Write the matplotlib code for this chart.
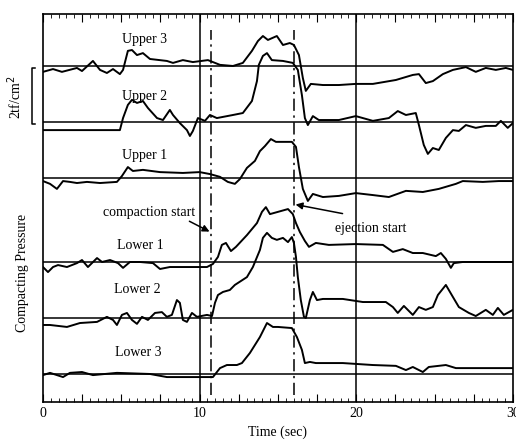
import numpy as np
import matplotlib.pyplot as plt
from matplotlib.ticker import MultipleLocator, FuncFormatter

plt.rcParams['font.family'] = ['Liberation Serif', 'DejaVu Serif']

# baselines of each channel (tf/cm^2, stacked)
baselines = {"Upper 3": 12.0, "Upper 2": 10.0, "Upper 1": 8.0,
             "Lower 1": 5.0, "Lower 2": 3.0, "Lower 3": 1.0}

# time (sec) and pressure relative to baseline (tf/cm^2)
upper3_t = [0, 0.64, 1.21, 2.17, 2.49, 3.19, 3.64, 4.08, 4.47, 4.91, 5.11, 5.42, 5.68, 6.0, 6.38,
            6.83, 7.91, 8.3, 8.93, 9.57, 10.53, 11.3, 12.13, 12.76, 13.34, 13.72, 14.04, 14.36,
            14.93, 15.32, 15.76, 16.02, 16.34, 16.59, 16.78, 17.1, 17.87, 18.89, 19.97, 21.06,
            22.53, 23.61, 24.0, 24.44, 24.89, 25.53, 26.17, 27.0, 27.63, 28.27, 28.91, 29.55, 30]
upper3_v = [-0.21, -0.11, -0.21, -0.07, -0.18, 0.18, -0.14, -0.25, -0.11, -0.29, -0.14, 0.54, 0.57,
            0.39, 0.46, 0.25, 0.18, 0.11, 0.21, 0.14, 0.21, 0.04, 0, 0.11, 0.54, 0.89, 1.07, 0.93,
            1.07, 0.75, 0.82, 0.75, 0.39, -0.43, -0.89, -0.64, -0.68, -0.68, -0.64, -0.64,
            -0.5, -0.32, -0.29, -0.61, -0.54, -0.29, -0.14, -0.04, -0.21, -0.07, -0.14, -0.07, -0.14]

upper2_t = [0, 4.91, 5.11, 5.42, 5.68, 6.0, 6.38, 6.7, 7.28, 7.66, 8.1, 8.3, 8.74, 9.19, 9.38, 9.57,
            9.89, 10.34, 10.66, 11.1, 12.13, 12.76, 13.34, 13.66, 13.78, 14.04, 14.3, 14.61, 15.32,
            15.95, 16.27, 16.53, 16.72, 16.91, 17.23, 17.61, 18.89, 19.97, 21.06, 22.08, 22.65,
            23.17, 23.8, 24.0, 24.31, 24.57, 24.89, 25.27, 25.72, 26.17, 26.55, 27.0, 27.63,
            28.27, 28.91, 29.23, 29.67, 30]
upper2_v = [-0.29, -0.29, 0.14, 0.61, 0.79, 0.68, 0.75, 0.5, 0.14, 0.07, 0.43, 0.25, -0.04, -0.29,
            -0.5, -0.32, 0.14, 0.04, 0.25, 0.14, 0.25, 0.32, 0.75, 1.46, 2.04, 2.36, 2.46, 2.21, 2.18,
            2.11, 1.86, 0.96, 0.14, -0.11, 0.21, 0.07, 0.07, 0.21, 0.04, 0.14, 0.39,
            0.25, 0.32, -0.11, -0.82, -1.14, -0.93, -1.0, -0.57, -0.29, -0.32, -0.11, -0.21,
            -0.14, -0.14, 0.04, -0.21, -0.04]

upper1_t = [0, 0.45, 0.89, 1.28, 1.72, 2.17, 2.81, 3.64, 4.72, 5.04, 5.42, 5.74, 6.38, 7.47, 8.93,
            10.0, 10.66, 11.3, 11.8, 12.25, 12.57, 13.02, 13.53, 13.85, 14.17, 14.55, 14.87, 15.89,
            16.15, 16.34, 16.59, 16.91, 17.23, 17.87, 18.89, 19.97, 21.06, 22.08, 23.17, 24.25,
            25.27, 26.36, 26.8, 28.08, 29.1, 30]
upper1_v = [-0.11, -0.21, -0.39, -0.11, -0.14, -0.18, -0.14, -0.18, -0.14, 0.07, 0.39, 0.25, 0.29,
            0.21, 0.18, 0.21, 0.14, 0.04, -0.14, -0.21, -0.04, 0.36, 0.61, 0.96, 1.14, 1.39, 1.29,
            1.29, 1.11, 0.39, -0.39, -0.82, -0.57, -0.68, -0.64, -0.54, -0.61, -0.68, -0.46, -0.5,
            -0.39, -0.21, -0.11, -0.14, -0.11, -0.11]

lower1_t = [0, 0.32, 0.64, 0.96, 1.53, 2.17, 2.49, 2.87, 3.45, 3.77, 4.28, 4.79, 5.11, 5.55, 6.19,
            7.02, 7.47, 8.1, 9.19, 10.47, 10.85, 11.17, 11.42, 11.68, 12.0, 12.32, 13.02, 13.66,
            13.98, 14.23, 14.49, 15.0, 15.64, 15.95, 16.15, 16.4, 16.72, 16.98, 17.42, 18.25,
            19.97, 21.7, 22.34, 22.97, 23.61, 24.25, 25.08, 25.4, 25.72, 26.04, 26.23, 26.8, 30]
lower1_v = [-0.18, -0.36, -0.18, -0.11, -0.18, -0.04, 0.07, -0.18, 0.14, 0, 0.07, -0.04, -0.21, 0,
            0, -0.04, -0.25, -0.18, -0.18, -0.18, -0.07, 0.18, 0.61, 0.68, 0.39, 0.54, 0.96, 1.39,
            1.79, 1.96, 1.71, 1.79, 1.89, 1.71, 1.39, 1.07, 0.75, 0.54, 0.68, 0.61,
            0.64, 0.61, 0.36, 0.46, 0.32, 0.32, 0.21, 0.32, 0.11, -0.21, -0.04, 0, 0]

lower2_t = [0, 0.45, 1.53, 2.36, 3.45, 4.08, 4.47, 4.72, 5.04, 5.36, 5.68, 6.0, 6.32, 6.7, 7.15,
            7.59, 7.91, 8.23, 8.55, 8.74, 8.93, 9.19, 9.51, 9.83, 10.47, 10.79, 10.98, 11.17,
            11.49, 11.93, 12.25, 13.02, 13.4, 13.85, 14.04, 14.3, 14.61, 14.93, 15.32, 15.64,
            15.89, 16.02, 16.15, 16.27, 16.46, 16.66, 16.78, 17.04, 17.23, 17.49, 17.87, 19.14,
            20.42, 21.89, 22.34, 22.65, 23.04, 23.61, 24.0, 24.44, 24.89, 25.21, 25.72, 26.17,
            26.55, 27.19, 27.63, 28.27, 28.72, 29.04, 29.42, 30]
lower2_v = [-0.25, -0.25, -0.32, -0.18, -0.14, 0.04, -0.07, -0.25, 0.11, 0.18, -0.07, -0.21, 0.04,
            -0.07, 0.18, 0.21, 0.04, 0.11, 0.64, 0.54, -0.07, -0.14, 0.18, 0.04, 0.11, 0.07, 0.54,
            0.82, 0.93, 1.0, 1.18, 1.46, 1.82, 2.43, 2.86, 3.04, 2.86, 2.79, 2.86, 2.71,
            2.89, 2.68, 2.18, 1.46, 0.64, 0.04, 0, 0.64, 0.93, 0.64, 0.68, 0.68,
            0.57, 0.57, 0.39, 0.18, 0.43, 0.11, 0.39, 0.29, 0.39, 0.82, 1.18, 0.75,
            0.39, 0.18, 0.07, 0.29, 0.11, 0.36, 0.11, 0.29]

lower3_t = [0, 0.45, 1.28, 1.72, 2.49, 3.19, 4.72, 6.83, 7.91, 9.57, 10.85, 11.3, 11.74, 12.38,
            12.7, 13.21, 13.85, 14.3, 14.68, 15.0, 15.89, 16.21, 16.53, 16.72, 17.04, 17.42, 19.14,
            21.06, 22.53, 23.17, 23.61, 24.25, 24.63, 25.72, 26.36, 27.44, 30]
lower3_v = [-0.04, 0.04, -0.11, 0.04, 0.07, -0.04, 0.04, 0, -0.11, -0.11, -0.11, 0.21, 0.32, 0.32,
            0.39, 0.75, 1.32, 1.82, 1.68, 1.68, 1.64, 1.32, 0.86, 0.39, 0.43, 0.39, 0.39,
            0.32, 0.29, 0.14, 0.25, 0.07, 0.25, 0.32, 0.21, 0.21, 0.21]

traces = {"Upper 3": (upper3_t, upper3_v), "Upper 2": (upper2_t, upper2_v),
          "Upper 1": (upper1_t, upper1_v), "Lower 1": (lower1_t, lower1_v),
          "Lower 2": (lower2_t, lower2_v), "Lower 3": (lower3_t, lower3_v)}

# label positions (time, height)
label_pos = {"Upper 3": (6.5, 12.93), "Upper 2": (6.5, 10.9), "Upper 1": (6.5, 8.82),
             "Lower 1": (6.2, 5.6), "Lower 2": (6.0, 4.0), "Lower 3": (6.05, 1.75)}

fig = plt.figure(figsize=(5.16, 4.4), dpi=100)
ax = fig.add_axes([0.0833, 0.0864, 0.9107, 0.882])

for name, (t, v) in traces.items():
    base = baselines[name]
    ax.axhline(base, color="black", lw=1.1)
    ax.plot(t, np.array(v) + base, color="black", lw=1.4)
    ax.text(*label_pos[name], name, ha="center", va="center", fontsize=10)

ax.axvline(10, color="black", lw=1.1)
ax.axvline(20, color="black", lw=1.1)
ax.plot([10.7, 10.7], [0.25, 13.3], color="black", lw=1.1, ls=(0, (8, 3, 1.5, 3)))
ax.plot([16.0, 16.0], [0.25, 13.3], color="black", lw=1.1, ls=(0, (8, 3, 1.5, 3)))

ax.annotate("", xy=(10.79, 6.04), xytext=(9.19, 6.5),
            arrowprops=dict(arrowstyle="-|>", color="black", lw=1.1))
ax.text(6.8, 6.75, "compaction start", ha="center", va="center", fontsize=10)
ax.annotate("", xy=(15.95, 7.07), xytext=(19.3, 6.71),
            arrowprops=dict(arrowstyle="-|>", color="black", lw=1.1))
ax.text(20.9, 6.18, "ejection start", ha="center", va="center", fontsize=10)

ax.set_xlim(0, 30)
ax.set_ylim(0, 13.86)
ax.set_yticks([])
ax.xaxis.set_major_locator(MultipleLocator(2.5))
ax.xaxis.set_minor_locator(MultipleLocator(0.5))
ax.xaxis.set_major_formatter(FuncFormatter(lambda x, p: f"{x:.0f}" if x % 10 == 0 else ""))
ax.tick_params(axis="x", which="both", direction="in", top=True, bottom=True, labelsize=10)
ax.tick_params(axis="x", which="major", length=6)
ax.tick_params(axis="x", which="minor", length=3)
for s in ax.spines.values():
    s.set_linewidth(1.2)
ax.set_xlabel("Time (sec)", fontsize=10, labelpad=4)

# scale bracket and y label outside the axes
fig.text(0.043, 0.38, "Compacting Pressure", rotation=90, ha="center", va="center", fontsize=10)
fig.text(0.028, 0.78, "2tf/cm$^2$", rotation=90, ha="center", va="center", fontsize=10)
bx = [0.068, 0.062, 0.062, 0.068]
by = [(440 - 68) / 440, (440 - 68) / 440, (440 - 124) / 440, (440 - 124) / 440]
fig.add_artist(plt.Line2D(bx, by, transform=fig.transFigure, color="black", lw=1.1))

fig.savefig("out.png", dpi=100)
